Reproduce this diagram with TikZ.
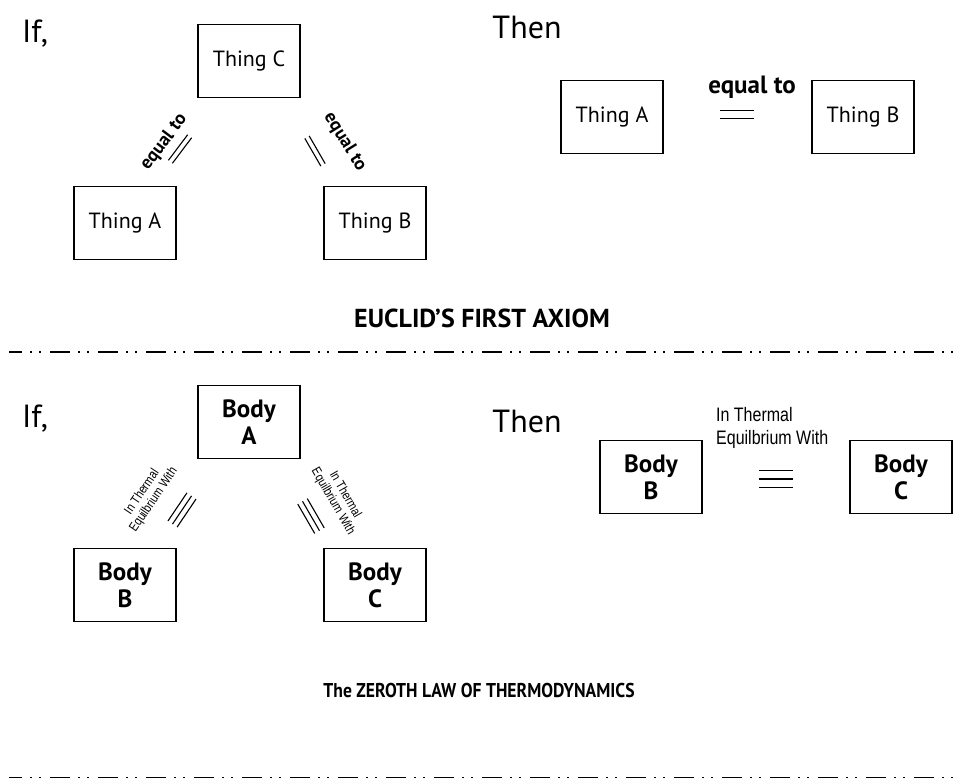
\documentclass[tikz,border=0pt]{standalone}
\usepackage{fontspec}
\setmainfont{PT Sans}
\newfontfamily\narrowfont[FakeStretch=0.82]{Liberation Sans}
\newfontfamily\ptcond[FakeStretch=0.88]{PT Sans}
\usetikzlibrary{calc}
\begin{document}
\begin{tikzpicture}[x=1pt,y=-1pt,
  box/.style={draw,line width=1.6pt,minimum width=102pt,minimum height=73pt,inner sep=0pt,font=\fontsize{22}{24}\selectfont},
  bbox/.style={draw,line width=1.6pt,minimum width=102pt,minimum height=73pt,inner sep=0pt,align=center,font=\bfseries\fontsize{25}{27}\selectfont},
  big/.style={font=\fontsize{32}{34}\selectfont},
  ttl/.style={font=\bfseries\fontsize{26}{28}\selectfont},
  ttlb/.style={font=\ptcond\bfseries\fontsize{20}{22}\selectfont},
  diag/.style={font=\bfseries\fontsize{18.5}{20}\selectfont},
  eqlab/.style={font=\bfseries\fontsize{25}{27}\selectfont},
  small/.style={align=left,font=\narrowfont\fontsize{19.5}{23}\selectfont},
  tiny/.style={align=center,font=\narrowfont\fontsize{13}{14}\selectfont},
  eq/.style={line width=1.1pt},
  sep/.style={line width=2.4pt,dash pattern=on 20pt off 8pt on 2pt off 7pt on 2pt off 9pt,dash phase=7pt}]
\clip (0,0) rectangle (957,777);
\useasboundingbox (0,0) rectangle (957,777);
% ---- Euclid
\node[big] (if1) at (35,34) {If,};
\node[big] (then1) at (527,27) {Then};
\node[box] (tc) at (249,61) {Thing C};
\node[box] (ta) at (125,223) {Thing A};
\node[box] (tb) at (375,223) {Thing B};
\node[diag,rotate=53] (lt1) at (164,142) {equal to};
\node[diag,rotate=-58] (rt1) at (345,142) {equal to};
\coordinate (le1) at (180,149);
\coordinate (re1) at (315,151);
\draw[eq,rotate around={53:(le1)}] ($(le1)+(-16,-2.5)$) -- ++(32,0) ($(le1)+(-16,2.5)$) -- ++(32,0);
\draw[eq,rotate around={-60:(re1)}] ($(re1)+(-16,-2.5)$) -- ++(32,0) ($(re1)+(-16,2.5)$) -- ++(32,0);
\node[box] (ta2) at (612,117) {Thing A};
\node[box] (tb2) at (863,117) {Thing B};
\node[eqlab] (eqt) at (752,87) {equal to};
\coordinate (me1) at (737,114.5);
\draw[eq] ($(me1)+(-17,-3.8)$) -- ++(34,0) ($(me1)+(-17,3.8)$) -- ++(34,0);
\node[ttl] (t1) at (482,318) {EUCLID'S FIRST AXIOM};
\draw[sep] (9,352) -- (957,352);
% ---- Zeroth law
\node[big] (if2) at (35,419) {If,};
\node[big] (then2) at (527,421) {Then};
\node[bbox] (ba) at (249,422) {Body\\A};
\node[bbox] (bb) at (125,585) {Body\\B};
\node[bbox] (bc) at (375,585) {Body\\C};
\node[tiny,rotate=56] (lt2) at (148,496) {In Thermal\\Equilbrium With};
\node[tiny,rotate=-60] (rt2) at (339,498) {In Thermal\\Equilbrium With};
\coordinate (le2) at (182,510);
\coordinate (re2) at (311,516);
\draw[eq,rotate around={56:(le2)}] ($(le2)+(-17,-5.5)$) -- ++(34,0) ($(le2)+(-17,0)$) -- ++(34,0) ($(le2)+(-17,5.5)$) -- ++(34,0);
\draw[eq,rotate around={-60:(re2)}] ($(re2)+(-17,-5.5)$) -- ++(34,0) ($(re2)+(-17,0)$) -- ++(34,0) ($(re2)+(-17,5.5)$) -- ++(34,0);
\node[bbox] (bb2) at (651,477) {Body\\B};
\node[bbox] (bc2) at (901,477) {Body\\C};
\node[small,anchor=north west,inner sep=0pt] (itw) at (716,407) {In Thermal\\Equilbrium With};
\coordinate (me2) at (776,479);
\draw[eq] ($(me2)+(-17,-8.5)$) -- ++(34,0) ($(me2)+(-17,0)$) -- ++(34,0) ($(me2)+(-17,8.5)$) -- ++(34,0);
\node[ttlb] (t2) at (479,690) {The ZEROTH LAW OF THERMODYNAMICS};
\draw[sep,line width=5pt] (9,779) -- (957,779);
\end{tikzpicture}
\end{document}
